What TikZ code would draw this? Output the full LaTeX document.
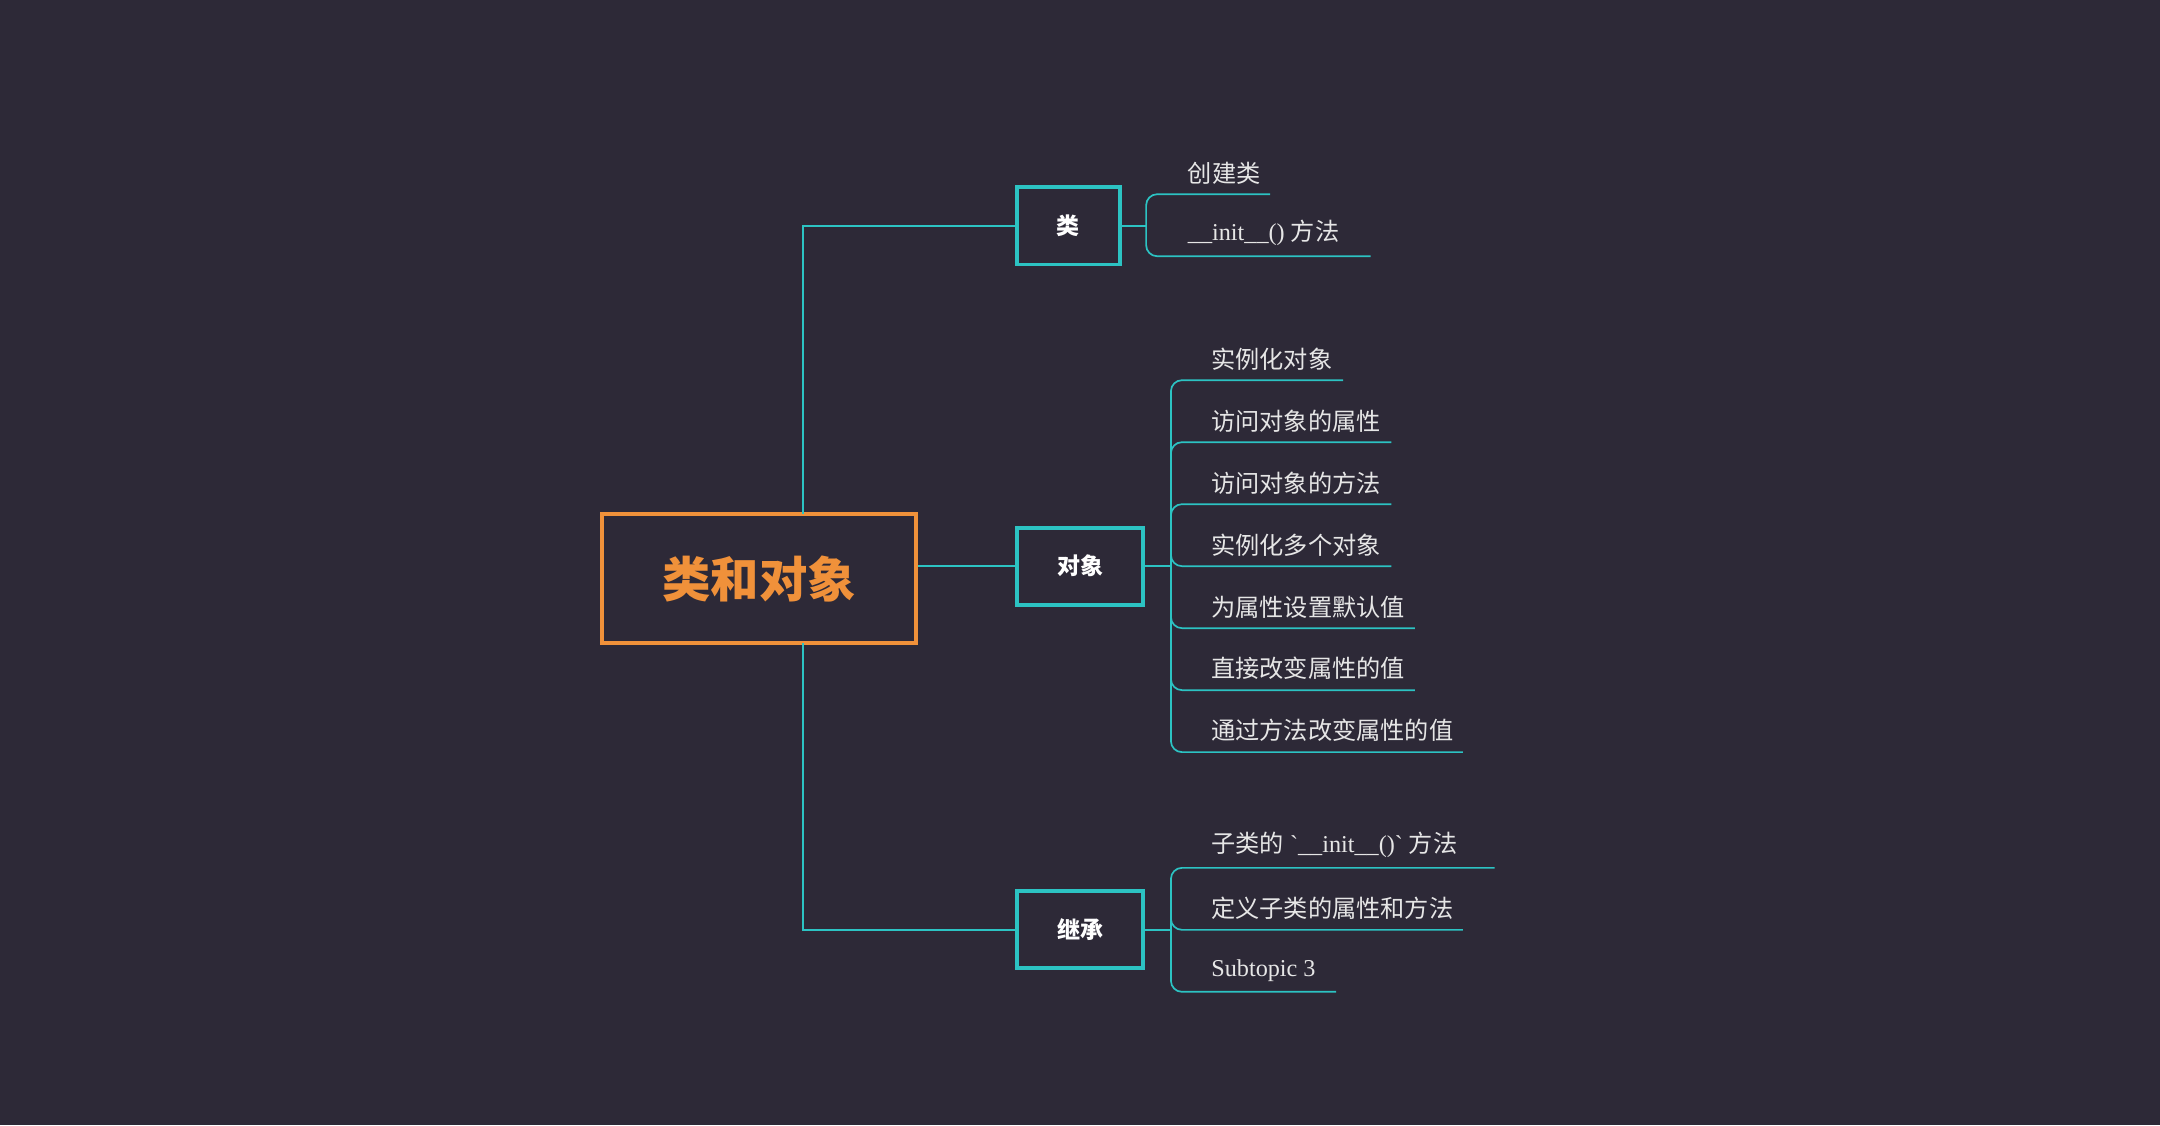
\documentclass[tikz,border=0pt]{standalone}
\usepackage{fontspec}
\setmainfont{Liberation Serif}
\newfontfamily\cjk{Noto Sans CJK SC}
\usetikzlibrary{positioning}
\definecolor{bgdark}{HTML}{2D2937}
\definecolor{teal}{HTML}{2CC3C3}
\definecolor{orng}{HTML}{F0913A}
\definecolor{leaftxt}{HTML}{E6E6E6}
\tikzset{
  rootbox/.style={draw=orng,line width=1.6pt,minimum width=228*0.02cm,minimum height=94*0.02cm,
    text=orng,font=\cjk\bfseries\fontsize{20}{24}\selectfont},
  topicbox/.style={draw=teal,line width=1.6pt,minimum height=56*0.02cm,
    text=white,font=\cjk\bfseries\fontsize{9.5}{11}\selectfont},
  leaf/.style={anchor=south west,inner sep=0pt,text=leaftxt,font=\fontsize{10}{12}\selectfont},
  link/.style={draw=teal,line width=0.7pt,rounded corners=8*0.02cm}
}
\begin{document}
\begin{tikzpicture}[x=0.02cm,y=-0.02cm]
  \fill[bgdark] (0,0) rectangle (1568,817);
  \node[rootbox] (root) at (551,420) {类和对象};
  \node[topicbox,minimum width=75*0.02cm] (cls) at (775.5,164) {类};
  \node[topicbox,minimum width=92*0.02cm] (obj) at (784,411) {对象};
  \node[topicbox,minimum width=92*0.02cm] (inh) at (784,675) {继承};
  % trunk
  \coordinate (up) at (583,164);
  \coordinate (dn) at (583,675);
  \draw[link,rounded corners=0] (cls.west) -- (up) -- (583,373);
  \draw[link,rounded corners=0] (inh.west) -- (dn) -- (583,467);
  \draw[link] (obj.west -| root.east) -- (obj.west);
  % class leaves
  \coordinate (clsb) at (832,164);
  \draw[link] (cls.east) -- (clsb);
  \foreach \i/\y/\e/\t in {1/141/922/{{\cjk 创建类}},2/186/995/{\_\_init\_\_() {\cjk 方法}}} {
    \node[leaf] (cls\i) at (862,\y-7) {\t};
    \draw[link] (clsb) -- (832,\y) -- (\e,\y);
  }
  % object leaves
  \coordinate (objb) at (850,411);
  \draw[link] (obj.east) -- (objb);
  \foreach \i/\y/\e/\t in {1/276/975/实例化对象,2/321/1010/访问对象的属性,3/366/1010/访问对象的方法,
      4/411/1010/实例化多个对象,5/456/1027/为属性设置默认值,6/501/1027/直接改变属性的值,7/546/1062/通过方法改变属性的值} {
    \node[leaf,font=\cjk\fontsize{10}{12}\selectfont] (obj\i) at (879,\y-7) {\t};
    \draw[link] (objb) -- (850,\y) -- (\e,\y);
  }
  % inheritance leaves
  \coordinate (inhb) at (850,675);
  \draw[link] (inh.east) -- (inhb);
  \foreach \i/\y/\e/\t in {1/630/1085/{{\cjk 子类的} \textasciigrave\_\_init\_\_()\textasciigrave{} {\cjk 方法}},
      2/675/1062/{{\cjk 定义子类的属性和方法}},3/720/970/{Subtopic 3}} {
    \node[leaf] (inh\i) at (879,\y-7) {\t};
    \draw[link] (inhb) -- (850,\y) -- (\e,\y);
  }
\end{tikzpicture}
\end{document}
